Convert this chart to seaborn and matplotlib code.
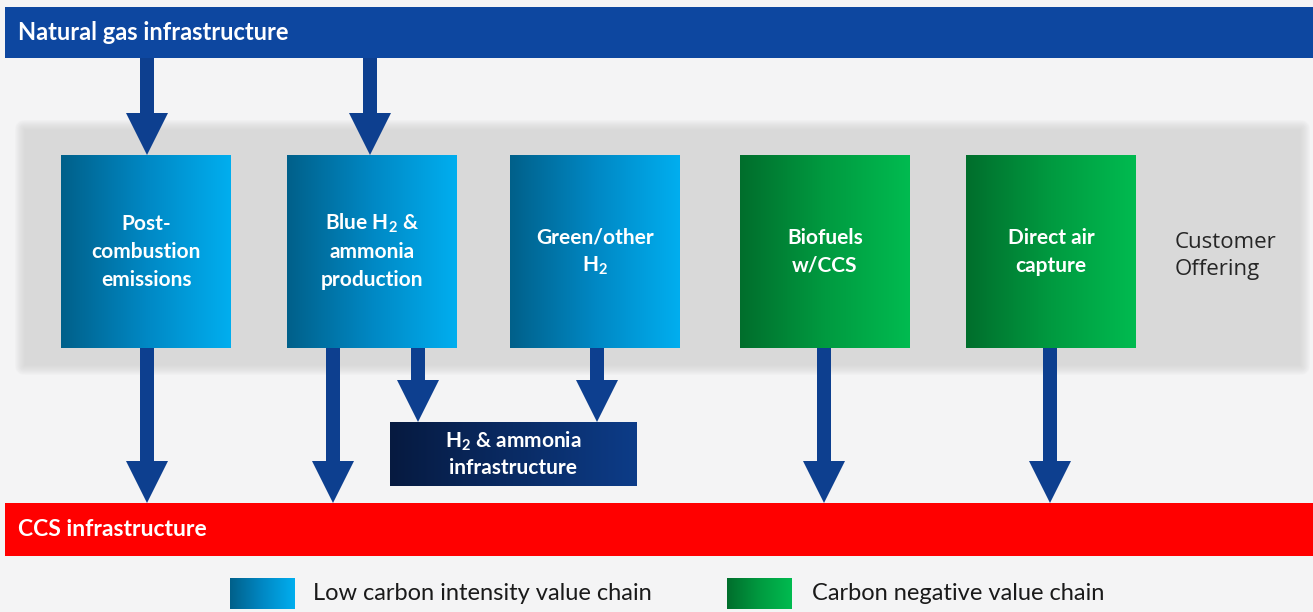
import numpy as np
import matplotlib
matplotlib.use("AGG")
import matplotlib.pyplot as plt
import seaborn as sns
from matplotlib.colors import LinearSegmentedColormap
from matplotlib.patches import Rectangle, FancyBboxPatch

# --- content ---
top_label = "Natural gas infrastructure"
bottom_label = "CCS infrastructure"
box_labels = [
    ["Post-", "combustion", "emissions"],
    [r"Blue H$_\mathbf{2}$ &", "ammonia", "production"],
    ["Green/other", r"H$_\mathbf{2}$"],
    ["Biofuels", "w/CCS"],
    ["Direct air", "capture"],
]
box_kind = ["blue", "blue", "blue", "green", "green"]
h2_label = [r"H$_\mathbf{2}$ & ammonia", "infrastructure"]
side_label = ["Customer", "Offering"]
legend_labels = ["Low carbon intensity value chain", "Carbon negative value chain"]

# --- layout (pixel coords, y down) ---
box_left = [61, 287, 510, 740, 966]
box_w = 170
box_top, box_bot = 155, 348
gas_arrows_x = [147, 370]
down_arrows = [(147, 503), (333, 503), (418, 422), (597, 422), (824, 503), (1050, 503)]

sns.set_theme(style="white")
plt.rcParams["mathtext.fontset"] = "custom"
plt.rcParams["mathtext.rm"] = "Lato:bold"
plt.rcParams["mathtext.bf"] = "Lato:bold"

W, H = 1313, 612
fig = plt.figure(figsize=(W / 100, H / 100), dpi=100)
fig.patch.set_facecolor("#f4f4f5")
ax = fig.add_axes([0, 0, 1, 1])
ax.set_facecolor("#f4f4f5")
ax.axis("off")

cmaps = {
    "blue": LinearSegmentedColormap.from_list("b", ["#00608a", "#0088c4", "#00aeef"]),
    "green": LinearSegmentedColormap.from_list("g", ["#006e2c", "#009a40", "#00bb50"]),
    "navy": LinearSegmentedColormap.from_list("n", ["#061a40", "#0d3c88"]),
}
grad = np.linspace(0, 1, 256).reshape(1, -1)


def grad_box(x0, y0, x1, y1, kind, z=3):
    ax.imshow(grad, cmap=cmaps[kind], extent=(x0, x1, y1, y0), aspect="auto",
              interpolation="bilinear", zorder=z)


# grey panel with soft edge
for i in range(10):
    d = 10 - i
    ax.add_patch(FancyBboxPatch((25 - d, 130 - d), 1275 + 2 * d, 235 + 2 * d,
                                boxstyle="round,pad=0,rounding_size=%d" % d,
                                fc="#c8c8c8", ec="none", alpha=0.07, zorder=1))
ax.add_patch(Rectangle((25, 130), 1275, 235, fc="#d9d9d9", ec="none", zorder=1.5))

# top and bottom bars
ax.add_patch(Rectangle((5, 7), 1308, 51, fc="#0d47a0", ec="none", zorder=2))
ax.text(18, 33, top_label, color="white", fontsize=17, fontweight="bold",
        family="Lato", va="center", ha="left", zorder=6)
ax.add_patch(Rectangle((5, 503), 1308, 53, fc="#ff0000", ec="none", zorder=2))
ax.text(18, 530, bottom_label, color="white", fontsize=16.5, fontweight="bold",
        family="Lato", va="center", ha="left", zorder=6)

arrow_c = "#0d3f8f"


def down_arrow(x, y0, y1):
    ax.arrow(x, y0, 0, y1 - y0, width=14, head_width=42, head_length=42,
             length_includes_head=True, fc=arrow_c, ec="none", zorder=4)


for x in gas_arrows_x:
    down_arrow(x, 58, box_top)
for x, yend in down_arrows:
    down_arrow(x, box_bot, yend)

# offering boxes
for left, lines, kind in zip(box_left, box_labels, box_kind):
    grad_box(left, box_top, left + box_w, box_bot, kind)
    n = len(lines)
    cy = (box_top + box_bot) / 2
    for j, line in enumerate(lines):
        y = cy + (j - (n - 1) / 2) * 28
        ax.text(left + box_w / 2, y, line, color="white", fontsize=15,
                fontweight="bold", family="Lato", ha="center", va="center", zorder=6)

# H2 & ammonia infrastructure box
grad_box(390, 422, 637, 486, "navy", z=5)
for j, line in enumerate(h2_label):
    ax.text(513, 441 + j * 27, line, color="white", fontsize=15, fontweight="bold",
            family="Lato", ha="center", va="center", zorder=6)

for j, line in enumerate(side_label):
    ax.text(1175, 242 + j * 28, line, color="#262626", fontsize=16,
            family="Open Sans", ha="left", va="center", zorder=6)

# legend
for (sx, tx), lab, kind in zip([(230, 313), (727, 812)], legend_labels, ["blue", "green"]):
    grad_box(sx, 578, sx + 65, 609, kind)
    ax.text(tx, 594, lab, color="#1a1a1a", fontsize=17, family="Lato",
            ha="left", va="center", zorder=6)

ax.set_xlim(0, W)
ax.set_ylim(H, 0)
fig.savefig("out.png", dpi=100, facecolor=fig.get_facecolor())
